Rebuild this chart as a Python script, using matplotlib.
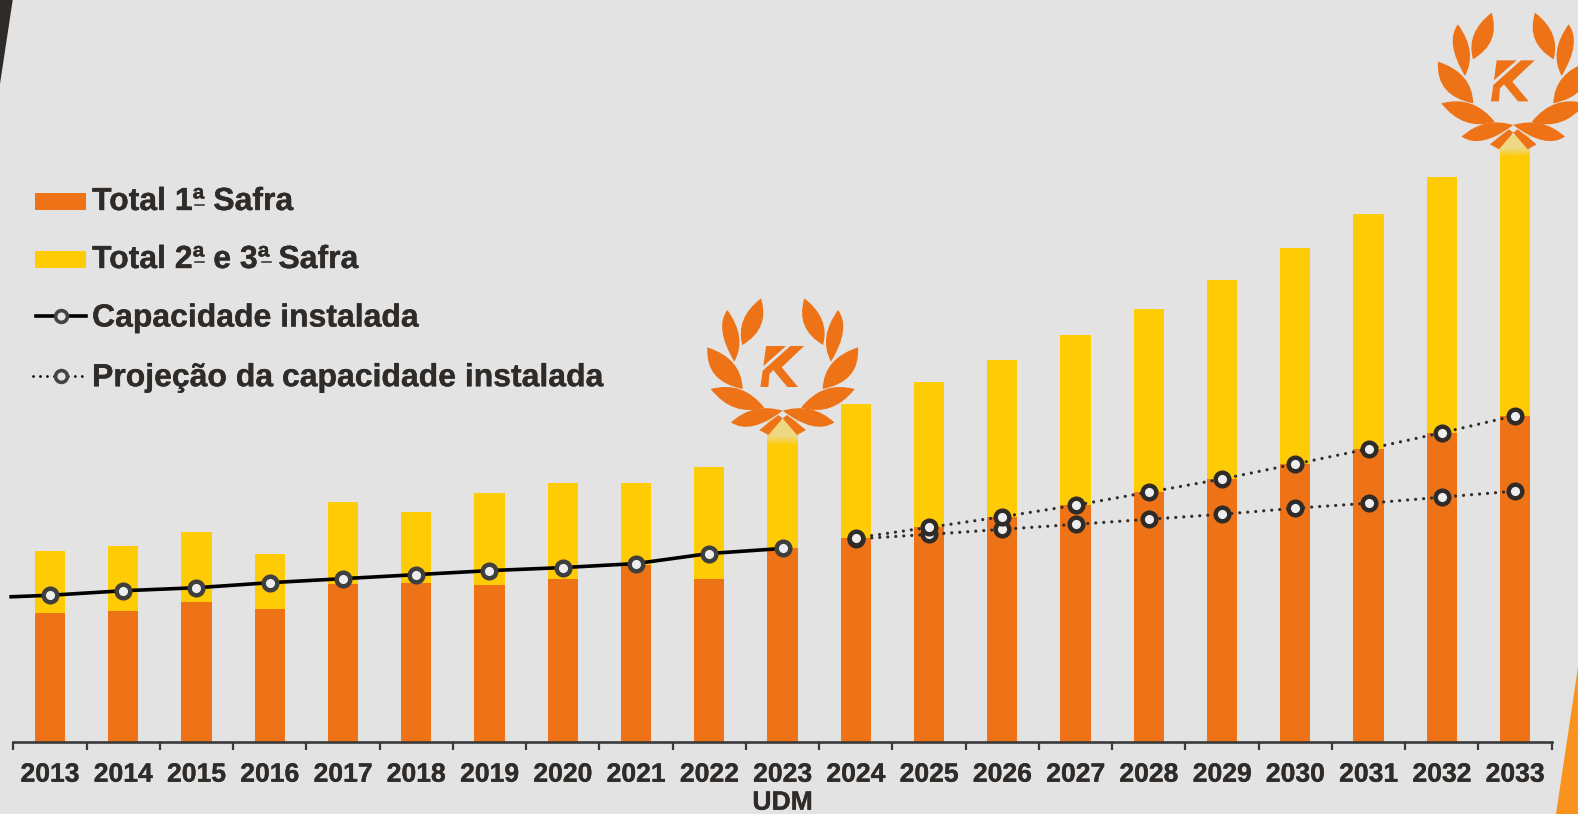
import numpy as np
import matplotlib
matplotlib.use("Agg")
import matplotlib.pyplot as plt
import matplotlib.patheffects as pe
from matplotlib.path import Path
from matplotlib.patches import PathPatch, Polygon, Rectangle
from matplotlib.lines import Line2D
from matplotlib.transforms import Affine2D

plt.rcParams['font.family'] = ['Liberation Sans', 'DejaVu Sans']

# data (no scale on the chart, values read as heights off the picture)
anos = ["2013", "2014", "2015", "2016", "2017", "2018", "2019", "2020", "2021", "2022",
        "2023\nUDM", "2024", "2025", "2026", "2027", "2028", "2029", "2030", "2031", "2032", "2033"]
safra1 = [128, 130, 139, 132, 157, 158, 156, 162, 176, 162, 192,
          202, 213, 223.5, 235, 248, 261, 276, 291, 307, 324]
total = [189, 194, 208, 187, 238, 228, 247, 257, 257, 273, 320,
         336, 357, 379, 404, 430, 459, 491, 524, 561, 603]
capacidade = [145.5, 150, 153, 158, 162, 166, 170, 173, 177, 187, 192]
capacidade_inicio = 144
proj_alta = [202.5, 213, 223.5, 235, 248, 261, 276, 291, 307, 324]
proj_baixa = [201.5, 206, 211, 216, 221, 226, 232, 237, 243, 249]

FUNDO = "#e3e3e3"
LARANJA = "#ee7216"
AMARELO = "#ffcb05"
ESCURO = "#2f2b28"
GROSSO = [pe.withStroke(linewidth=0.25, foreground=ESCURO)]

fig = plt.figure(figsize=(15.78, 8.14), dpi=100, facecolor=FUNDO)
ax = fig.add_axes([13.3 / 1578, 72.3 / 814, 1538.4 / 1578, 741.7 / 814])
ax.set_facecolor("none")

# pixels of the picture, y going down
px = Affine2D().scale(1, -1).translate(0, 814)

fig.add_artist(Polygon([(0, 0), (12.7, 0), (0, 84)], closed=True, fc=ESCURO, ec="none", transform=px))
fig.add_artist(Polygon([(1578, 667), (1556, 814), (1578, 814)], closed=True, fc="#f7931e", ec="none", transform=px))

x = np.arange(len(anos))
resto = [t - s for t, s in zip(total, safra1)]
ax.bar(x, safra1, width=0.413, color=LARANJA, zorder=2)
ax.bar(x, resto, width=0.413, bottom=safra1, color=AMARELO, zorder=2)

# the bars fade out under the two logos
fade = np.array(matplotlib.colors.to_rgba(FUNDO))
grad = np.tile(fade, (30, 1, 1))
grad[:, 0, 3] = np.concatenate([np.full(18, 0.58), np.linspace(0.58, 0, 12)])
for i, h in [(10, 26), (20, 22)]:
    ax.imshow(grad, extent=(i - 0.2065, i + 0.2065, total[i] - h, total[i]), aspect="auto", zorder=2.5)

marcador = dict(marker="o", markersize=9.8, markeredgewidth=3.2, markerfacecolor="#eeeeee")
pontilhado = (0, (0.01, 2.5))

ax.plot(x[11:], proj_baixa, color=ESCURO, lw=2.3, linestyle=pontilhado, dash_capstyle="round",
        markeredgecolor=ESCURO, zorder=3, **marcador)
ax.plot(x[11:], proj_alta, color=ESCURO, lw=2.3, linestyle=pontilhado, dash_capstyle="round",
        markeredgecolor=ESCURO, zorder=3, **marcador)
ax.plot(np.r_[-0.53, x[:11]], [capacidade_inicio] + capacidade, color="black", lw=2.6,
        markeredgecolor="#3f3f3f", markevery=slice(1, None), zorder=3, clip_on=False, **marcador)

ax.set_xlim(-0.5, 20.5)
ax.set_ylim(0, 737)
ax.set_yticks([])
for lado in ["top", "left", "right"]:
    ax.spines[lado].set_visible(False)
ax.spines["bottom"].set_color("#3a3a3a")
ax.spines["bottom"].set_linewidth(1.9)
ax.set_xticks(np.arange(-0.5, 21, 1))
ax.set_xticklabels([])
ax.set_xticks(x, anos, minor=True)
ax.tick_params(axis="x", which="major", length=6, width=1.6, color="#3a3a3a")
ax.tick_params(axis="x", which="minor", length=0, pad=14.4, labelsize=19.1, labelcolor=ESCURO)
for t in ax.get_xticklabels(minor=True):
    t.set_fontweight("bold")
    t.set_linespacing(1.1)
    t.set_path_effects(GROSSO)

# legend
leg_y = [197.5, 255.5, 314, 373.7]
leg_txt = ["Total 1ª Safra", "Total 2ª e 3ª Safra", "Capacidade instalada", "Projeção da capacidade instalada"]
for y, txt in zip(leg_y, leg_txt):
    fig.text(92 / 1578, 1 - (y + 1) / 814, txt, fontsize=23, fontweight="bold", color=ESCURO,
             va="center_baseline", path_effects=GROSSO)
fig.add_artist(Rectangle((35, 193), 51, 17, fc=LARANJA, ec="none", transform=px))
fig.add_artist(Rectangle((35, 251), 51, 17, fc=AMARELO, ec="none", transform=px))
# the ª are underlined in the reference
for x0, y0 in [(195, 205), (195, 262), (262, 262)]:
    fig.add_artist(Line2D([x0, x0 + 9], [y0, y0], color=ESCURO, lw=1.1, transform=px))
mini = dict(marker="o", markersize=8.5, markeredgewidth=2.6, markerfacecolor=FUNDO, markeredgecolor="#444444")
fig.add_artist(Line2D([36, 86], [316, 316], color="black", lw=2.6, transform=px))
fig.add_artist(Line2D([61], [316], transform=px, **mini))
fig.add_artist(Line2D([33, 88], [375.7, 375.7], color="black", lw=2, linestyle=pontilhado,
                      dash_capstyle="round", transform=px))
fig.add_artist(Line2D([61], [375.7], transform=px, **mini))

# logo, drawn around the knot of the wreath (units : px * 3), left half only
# each leaf : tip, control of one side, other tip, control of the other side
folhas = [
    [(-65, -337), (-143, -277), (-121, -197), (-37, -247)],
    [(-166, -302), (-206, -249), (-145, -147), (-106, -219)],
    [(-226, -190), (-123, -157), (-120, -65), (-233, -87)],
    [(-216, -65), (-120, -91), (-55, -9), (-150, 19)],
    [(-155, 35), (-88, -26), (0, 0), (-98, 74)],
]
ruban = [(-70, 58), (-33, 28), (-13, 13), (0, 23), (-43, 73)]
k_cima = [(-50, -194), (10, -194), (-58, -134)]
k_baixo = [(23, -194), (64, -194), (-3, -130), (46, -71), (14, -71), (-28, -122),
           (-40, -110), (-43, -71), (-67, -71), (-60, -120)]


def folha_path(p, sinal):
    pts = [(sinal * a, b) for a, b in p]
    return Path(pts + [pts[0]], [Path.MOVETO] + [Path.CURVE3] * 4)


def logo(cx, cy):
    tr = Affine2D().scale(1 / 3).translate(cx, cy) + px
    for sinal in [-1, 1]:
        for f in folhas:
            fig.add_artist(PathPatch(folha_path(f, sinal), fc=LARANJA, ec="none", transform=tr, zorder=5))
        fig.add_artist(Polygon([(sinal * a, b) for a, b in ruban], closed=True, fc=LARANJA, ec="none",
                               transform=tr, zorder=5))
    fig.add_artist(Polygon(k_cima, closed=True, fc=LARANJA, ec="none", transform=tr, zorder=5))
    fig.add_artist(Polygon(k_baixo, closed=True, fc=LARANJA, ec="none", transform=tr, zorder=5))


logo(782.7, 410.7)
logo(1513.3, 125)

fig.savefig("out.png", dpi=100, facecolor=FUNDO)
